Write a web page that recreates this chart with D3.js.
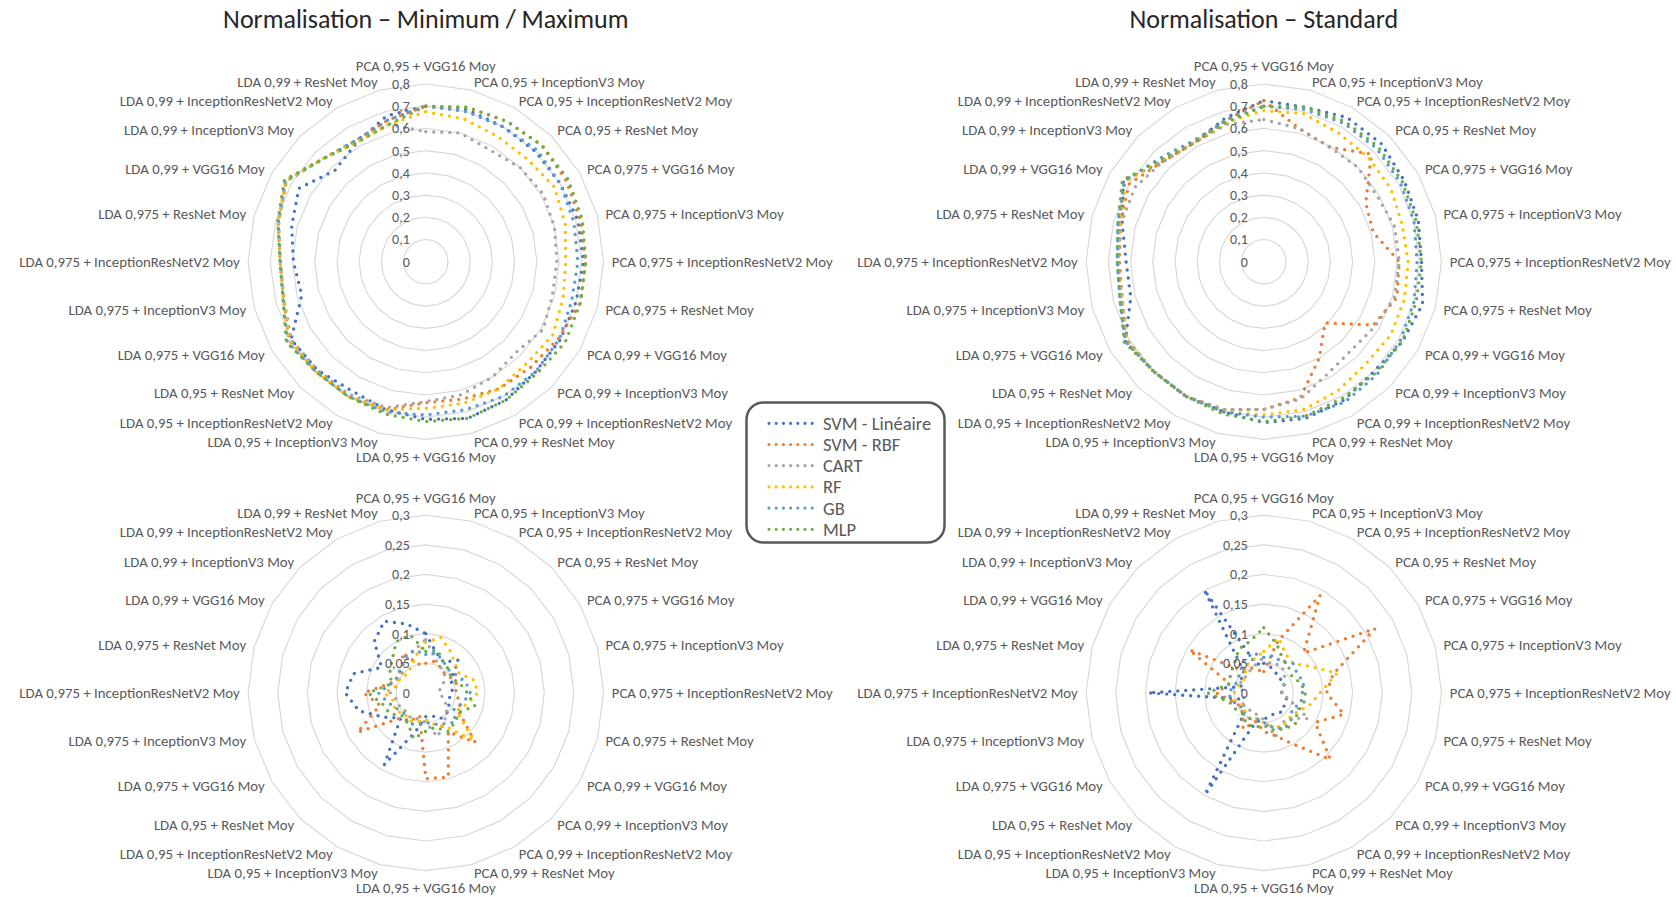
<!DOCTYPE html>
<html>
<head>
<meta charset="utf-8">
<script src="https://cdn.jsdelivr.net/npm/d3@7"></script>
<style>
  body { margin: 0; background: #fff; }
  svg text { font-family: Carlito, Calibri, Lato, sans-serif; }
</style>
</head>
<body>
<div id="graph"></div>
<script>
//constantes
const w = 1676;
const h = 897;
const rayon = 177.7;
const rayonLabel = 186;

// catégories (axes du radar, sens horaire depuis le haut)
const categories = [
  "PCA 0,95 + VGG16 Moy", "PCA 0,95 + InceptionV3 Moy", "PCA 0,95 + InceptionResNetV2 Moy", "PCA 0,95 + ResNet Moy",
  "PCA 0,975 + VGG16 Moy", "PCA 0,975 + InceptionV3 Moy", "PCA 0,975 + InceptionResNetV2 Moy", "PCA 0,975 + ResNet Moy",
  "PCA 0,99 + VGG16 Moy", "PCA 0,99 + InceptionV3 Moy", "PCA 0,99 + InceptionResNetV2 Moy", "PCA 0,99 + ResNet Moy",
  "LDA 0,95 + VGG16 Moy", "LDA 0,95 + InceptionV3 Moy", "LDA 0,95 + InceptionResNetV2 Moy", "LDA 0,95 + ResNet Moy",
  "LDA 0,975 + VGG16 Moy", "LDA 0,975 + InceptionV3 Moy", "LDA 0,975 + InceptionResNetV2 Moy", "LDA 0,975 + ResNet Moy",
  "LDA 0,99 + VGG16 Moy", "LDA 0,99 + InceptionV3 Moy", "LDA 0,99 + InceptionResNetV2 Moy", "LDA 0,99 + ResNet Moy"
];

const series = ["SVM - Linéaire", "SVM - RBF", "CART", "RF", "GB", "MLP"];
const couleurs = ["#4472c4", "#ed7d31", "#a5a5a5", "#ffc000", "#5b9bd5", "#70ad47"];

const titres = ["Normalisation – Minimum / Maximum", "Normalisation – Standard"];

// graduations
const ticksHaut = [0, 0.1, 0.2, 0.3, 0.4, 0.5, 0.6, 0.7, 0.8];
const ticksBas = [0, 0.05, 0.1, 0.15, 0.2, 0.25, 0.3];

// min / max - moyenne
const mmMoySvmLin = [0.70,0.71,0.70,0.70,0.70,0.71,0.71,0.70,0.70,0.70,0.72,0.73,0.71,0.69,0.67,0.69,0.70,0.578,0.596,0.625,0.66,0.58,0.62,0.68];
const mmMoySvmRbf = [0.70,0.72,0.73,0.74,0.73,0.72,0.72,0.72,0.69,0.67,0.66,0.64,0.635,0.69,0.70,0.70,0.71,0.663,0.656,0.688,0.725,0.655,0.63,0.66];
const mmMoyCart   = [0.585,0.60,0.58,0.60,0.61,0.60,0.59,0.59,0.61,0.576,0.60,0.62,0.63,0.68,0.69,0.69,0.70,0.66,0.655,0.685,0.725,0.655,0.63,0.64];
const mmMoyRf     = [0.675,0.665,0.65,0.65,0.67,0.65,0.63,0.64,0.66,0.645,0.66,0.66,0.66,0.69,0.70,0.70,0.71,0.663,0.656,0.688,0.73,0.655,0.62,0.64];
const mmMoyGb     = [0.70,0.70,0.70,0.71,0.70,0.69,0.685,0.68,0.695,0.70,0.70,0.69,0.69,0.70,0.70,0.70,0.72,0.665,0.655,0.688,0.73,0.655,0.63,0.66];
const mmMoyMlp    = [0.70,0.72,0.73,0.74,0.74,0.73,0.72,0.72,0.725,0.71,0.72,0.73,0.72,0.71,0.70,0.70,0.725,0.665,0.656,0.69,0.735,0.655,0.62,0.64];

// standard - moyenne
const stdMoySvmLin = [0.725,0.72,0.75,0.75,0.73,0.72,0.71,0.74,0.72,0.70,0.72,0.73,0.725,0.70,0.70,0.70,0.72,0.62,0.62,0.66,0.73,0.64,0.62,0.67];
const stdMoySvmRbf = [0.725,0.62,0.595,0.685,0.53,0.51,0.61,0.62,0.57,0.39,0.50,0.635,0.665,0.69,0.70,0.70,0.71,0.66,0.65,0.67,0.70,0.64,0.62,0.66];
const stdMoyCart   = [0.64,0.62,0.595,0.60,0.59,0.61,0.61,0.61,0.58,0.56,0.58,0.64,0.665,0.69,0.70,0.70,0.71,0.66,0.655,0.665,0.67,0.64,0.62,0.64];
const stdMoyRf     = [0.68,0.69,0.67,0.665,0.66,0.645,0.65,0.655,0.66,0.65,0.67,0.69,0.69,0.70,0.70,0.70,0.715,0.66,0.66,0.67,0.72,0.65,0.62,0.65];
const stdMoyGb     = [0.70,0.71,0.72,0.72,0.71,0.70,0.69,0.70,0.71,0.72,0.73,0.72,0.70,0.70,0.70,0.70,0.72,0.67,0.66,0.68,0.725,0.66,0.63,0.66];
const stdMoyMlp    = [0.70,0.72,0.73,0.73,0.72,0.71,0.71,0.71,0.72,0.71,0.71,0.72,0.72,0.71,0.70,0.70,0.725,0.67,0.66,0.68,0.735,0.65,0.62,0.65];

// min / max - écart
const mmEcSvmLin = [0.10,0.07,0.06,0.078,0.05,0.045,0.045,0.04,0.045,0.05,0.05,0.04,0.04,0.068,0.14,0.06,0.082,0.117,0.136,0.126,0.086,0.123,0.14,0.12];
const mmEcSvmRbf = [0.05,0.055,0.05,0.045,0.05,0.055,0.05,0.06,0.065,0.118,0.076,0.147,0.145,0.04,0.055,0.06,0.133,0.08,0.105,0.062,0.05,0.055,0.078,0.05];
const mmEcCart   = [0.09,0.06,0.05,0.045,0.035,0.025,0.022,0.03,0.04,0.05,0.06,0.077,0.05,0.045,0.05,0.045,0.05,0.05,0.06,0.05,0.055,0.06,0.065,0.075];
const mmEcRf     = [0.085,0.097,0.082,0.07,0.065,0.084,0.088,0.072,0.06,0.114,0.065,0.055,0.045,0.05,0.055,0.05,0.06,0.055,0.07,0.05,0.05,0.045,0.05,0.065];
const mmEcGb     = [0.065,0.07,0.06,0.055,0.06,0.07,0.075,0.065,0.055,0.07,0.06,0.055,0.05,0.055,0.06,0.05,0.055,0.065,0.08,0.06,0.055,0.06,0.07,0.075];
const mmEcMlp    = [0.07,0.075,0.06,0.055,0.05,0.06,0.07,0.086,0.065,0.07,0.075,0.06,0.065,0.08,0.06,0.055,0.07,0.075,0.097,0.06,0.07,0.08,0.10,0.101];

// standard - écart
const stdEcSvmLin = [0.05,0.045,0.04,0.035,0.04,0.035,0.03,0.04,0.04,0.045,0.04,0.04,0.045,0.05,0.199,0.045,0.04,0.04,0.195,0.04,0.045,0.045,0.201,0.05];
const stdEcSvmRbf = [0.036,0.09,0.19,0.095,0.217,0.121,0.106,0.14,0.10,0.159,0.10,0.075,0.065,0.05,0.07,0.05,0.045,0.055,0.08,0.06,0.145,0.055,0.05,0.04];
const stdEcCart   = [0.06,0.05,0.055,0.05,0.04,0.035,0.03,0.045,0.087,0.06,0.06,0.077,0.045,0.04,0.035,0.04,0.04,0.035,0.035,0.04,0.045,0.04,0.045,0.05];
const stdEcRf     = [0.07,0.096,0.075,0.07,0.09,0.128,0.095,0.08,0.065,0.06,0.065,0.06,0.05,0.045,0.05,0.045,0.04,0.05,0.05,0.045,0.04,0.045,0.055,0.06];
const stdEcGb     = [0.06,0.065,0.06,0.07,0.065,0.07,0.065,0.065,0.055,0.065,0.07,0.06,0.05,0.045,0.05,0.05,0.045,0.055,0.06,0.05,0.05,0.055,0.065,0.07];
const stdEcMlp    = [0.11,0.085,0.065,0.06,0.055,0.065,0.07,0.07,0.065,0.075,0.07,0.065,0.055,0.06,0.06,0.05,0.055,0.06,0.095,0.06,0.065,0.07,0.085,0.09];

// format avec virgule
const locale = d3.formatLocale({decimal: ",", thousands: " ", grouping: [3], currency: ["", ""]});
const virgule = locale.format("~g");

//création du svg
const svg = d3.select("#graph")
    .append("svg")
    .attr("width", w)
    .attr("height", h);

const angle = d3.scaleLinear()
    .domain([0, categories.length])
    .range([0, 2 * Math.PI]);

function radar(cx, cy, max, ticks, donnees) {
    const g = svg.append("g")
        .attr("transform", "translate(" + cx + "," + cy + ")");

    const rScale = d3.scaleLinear()
        .domain([0, max])
        .range([0, rayon]);

    // grille
    g.selectAll(".anneau")
        .data(ticks.filter(t => t > 0))
        .enter()
        .append("path")
        .attr("d", t => d3.lineRadial()
            .angle((d, i) => angle(i))
            .radius(rScale(t))
            .curve(d3.curveLinearClosed)(categories))
        .attr("fill", "none")
        .attr("stroke", "#d9d9d9")
        .attr("stroke-width", 1.2);

    // séries
    const ligne = d3.lineRadial()
        .angle((d, i) => angle(i))
        .radius(d => rScale(d))
        .curve(d3.curveLinearClosed);

    g.selectAll(".serie")
        .data(donnees)
        .enter()
        .append("path")
        .attr("d", ligne)
        .attr("fill", "none")
        .attr("stroke", (d, i) => couleurs[i])
        .attr("stroke-width", 3.4)
        .attr("stroke-linecap", "round")
        .attr("stroke-dasharray", "0 8");

    // graduations
    g.selectAll(".grad")
        .data(ticks)
        .enter()
        .append("text")
        .attr("x", -16)
        .attr("y", t => -rScale(t))
        .attr("dy", "0.35em")
        .attr("text-anchor", "end")
        .attr("font-size", "14px")
        .attr("fill", "#595959")
        .text(t => virgule(t));

    // libellés des axes
    g.selectAll(".cat")
        .data(categories)
        .enter()
        .append("text")
        .attr("x", (d, i) => rayonLabel * Math.sin(angle(i)))
        .attr("y", (d, i) => {
            let y = -rayonLabel * Math.cos(angle(i));
            if (i == 0) y -= 9.4;
            if (i == 12) y += 8.8;
            return y;
        })
        .attr("dy", "0.35em")
        .attr("text-anchor", (d, i) => {
            if (i == 0 || i == 12) return "middle";
            return i < 12 ? "start" : "end";
        })
        .attr("font-size", "14.8px")
        .attr("fill", "#595959")
        .text(d => d);
}

// titres
svg.selectAll(".titre")
    .data(titres)
    .enter()
    .append("text")
    .attr("x", (d, i) => 425.8 + i * 838)
    .attr("y", 19.3)
    .attr("dy", "0.35em")
    .attr("text-anchor", "middle")
    .attr("font-size", "26px")
    .attr("fill", "#262626")
    .text(d => d);

radar(425.8, 261.7, 0.8, ticksHaut, [mmMoySvmLin, mmMoySvmRbf, mmMoyCart, mmMoyRf, mmMoyGb, mmMoyMlp]);
radar(1263.8, 261.7, 0.8, ticksHaut, [stdMoySvmLin, stdMoySvmRbf, stdMoyCart, stdMoyRf, stdMoyGb, stdMoyMlp]);
radar(425.8, 692.9, 0.3, ticksBas, [mmEcSvmLin, mmEcSvmRbf, mmEcCart, mmEcRf, mmEcGb, mmEcMlp]);
radar(1263.8, 692.9, 0.3, ticksBas, [stdEcSvmLin, stdEcSvmRbf, stdEcCart, stdEcRf, stdEcGb, stdEcMlp]);

// légende
const legende = svg.append("g");

legende.append("rect")
    .attr("x", 746.5)
    .attr("y", 402.5)
    .attr("width", 198)
    .attr("height", 140)
    .attr("rx", 17)
    .attr("fill", "#fff")
    .attr("stroke", "#595959")
    .attr("stroke-width", 2.5);

const items = legende.selectAll(".item")
    .data(series)
    .enter()
    .append("g")
    .attr("transform", (d, i) => "translate(0," + (423.3 + i * 21.2) + ")");

items.append("line")
    .attr("x1", 769)
    .attr("x2", 818)
    .attr("stroke", (d, i) => couleurs[i])
    .attr("stroke-width", 3.2)
    .attr("stroke-linecap", "round")
    .attr("stroke-dasharray", "0 7.2");

items.append("text")
    .attr("x", 823)
    .attr("dy", "0.35em")
    .attr("font-size", "18.5px")
    .attr("fill", "#595959")
    .text(d => d);
</script>
